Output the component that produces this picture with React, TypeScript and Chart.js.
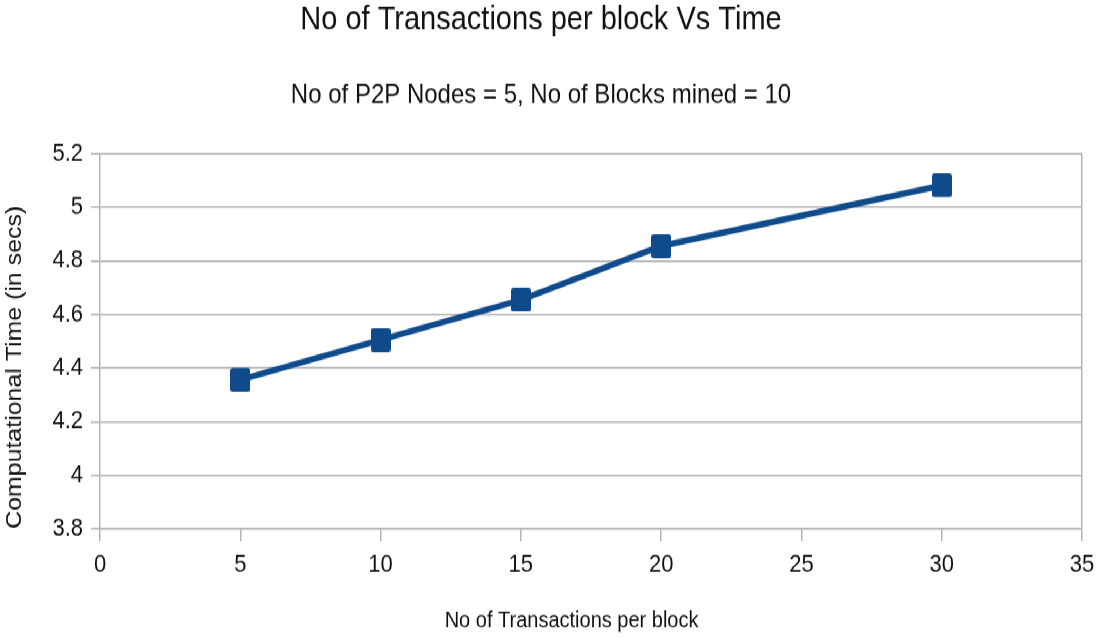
import React, { useEffect, useRef } from "react";
import { Chart, registerables } from "chart.js";

Chart.register(...registerables);

const titleText = "No of Transactions per block Vs Time";
const subtitleText = "No of P2P Nodes = 5, No of Blocks mined = 10";
const xAxisTitle = "No of Transactions per block";
const yAxisTitle = "Computational Time (in secs)";

const txPerBlock = [5, 10, 15, 20, 30];
const compTime = [4.356, 4.505, 4.654, 4.855, 5.081];

const xTickValues = [0, 5, 10, 15, 20, 25, 30, 35];
const yTickValues = [3.8, 4.0, 4.2, 4.4, 4.6, 4.8, 5.0, 5.2];

const SERIES_COLOR = "#0f4a8b";
const GRID_COLOR = "#b3b3b3";
const TEXT_COLOR = "#111111";
const FONT = "'Liberation Sans', Arial, sans-serif";

// The reference picture is vertically stretched; the canvas is drawn at this
// height and stretched to the full 641px page height.
const PAGE_W = 1100;
const PAGE_H = 641;
const CANVAS_H = 566;
const STRETCH = PAGE_H / CANVAS_H;

// trailing spaces shift the centred x-axis title slightly left, as in the reference
const X_TITLE_PAD = "       ";

function makeMarker(): HTMLCanvasElement {
  const w = 20;
  const h = 21;
  const c = document.createElement("canvas");
  c.width = w;
  c.height = h;
  const g = c.getContext("2d")!;
  g.fillStyle = SERIES_COLOR;
  const r = 2.5;
  g.beginPath();
  g.moveTo(r, 0);
  g.lineTo(w - r, 0);
  g.quadraticCurveTo(w, 0, w, r);
  g.lineTo(w, h - r);
  g.quadraticCurveTo(w, h, w - r, h);
  g.lineTo(r, h);
  g.quadraticCurveTo(0, h, 0, h - r);
  g.lineTo(0, r);
  g.quadraticCurveTo(0, 0, r, 0);
  g.closePath();
  g.fill();
  return c;
}

export default function App() {
  const canvasRef = useRef<HTMLCanvasElement | null>(null);

  useEffect(() => {
    const canvas = canvasRef.current;
    if (!canvas) return;
    const marker = makeMarker();
    const chart = new Chart(canvas, {
      type: "line",
      data: {
        datasets: [
          {
            label: "Computational Time",
            data: txPerBlock.map((x, i) => ({ x, y: compTime[i] })),
            borderColor: SERIES_COLOR,
            backgroundColor: SERIES_COLOR,
            borderWidth: 5.5,
            pointStyle: marker as any,
            pointRadius: 11,
            tension: 0,
          },
        ],
      },
      options: {
        responsive: false,
        animation: false,
        devicePixelRatio: 1,
        layout: { padding: { left: 0, right: 18, top: 0, bottom: 0 } },
        plugins: {
          legend: { display: false },
          tooltip: { enabled: false },
          title: {
            display: true,
            text: titleText,
            color: TEXT_COLOR,
            font: { family: FONT, size: 29, weight: "normal" },
            padding: { top: 1, bottom: 34 },
          },
          subtitle: {
            display: true,
            text: subtitleText,
            color: TEXT_COLOR,
            font: { family: FONT, size: 24, weight: "normal" },
            padding: { top: 0, bottom: 37 },
          },
        },
        scales: {
          x: {
            type: "linear",
            min: 0,
            max: 35,
            afterBuildTicks: (scale: any) => {
              scale.ticks = xTickValues.map((v) => ({ value: v }));
            },
            afterFit: (scale: any) => {
              scale.height = 99;
              scale.paddingLeft = 0;
              scale.paddingRight = 0;
            },
            ticks: {
              color: TEXT_COLOR,
              font: { family: FONT, size: 22 },
              padding: 8,
              maxRotation: 0,
              autoSkip: false,
              callback: (v: any) => String(v),
            },
            grid: {
              color: (ctx: any) =>
                ctx.tick && ctx.tick.value === 35 ? GRID_COLOR : "rgba(0,0,0,0)",
              tickColor: GRID_COLOR,
              tickLength: 11,
              lineWidth: 1.5,
            },
            border: { display: true, color: GRID_COLOR, width: 1.5 },
            title: {
              display: true,
              text: xAxisTitle + X_TITLE_PAD,
              color: TEXT_COLOR,
              font: { family: FONT, size: 20 },
              padding: { top: 0, bottom: 6 },
            },
          },
          y: {
            type: "linear",
            min: 3.8,
            max: 5.2,
            afterBuildTicks: (scale: any) => {
              scale.ticks = yTickValues.map((v) => ({ value: v }));
            },
            afterFit: (scale: any) => {
              scale.width = 100;
            },
            ticks: {
              color: TEXT_COLOR,
              font: { family: FONT, size: 22 },
              padding: 8,
              autoSkip: false,
              callback: (v: any) => String(Number(Number(v).toFixed(1))),
            },
            grid: {
              color: GRID_COLOR,
              tickColor: GRID_COLOR,
              tickLength: 9,
              lineWidth: 1.5,
            },
            border: { display: true, color: GRID_COLOR, width: 1.5 },
            title: {
              display: true,
              text: yAxisTitle,
              align: "start",
              color: TEXT_COLOR,
              font: { family: FONT, size: 22 },
              padding: { top: 2, bottom: 0 },
            },
          },
        },
      },
    });
    return () => chart.destroy();
  }, []);

  return (
    <div
      style={{
        position: "absolute",
        left: 0,
        top: 0,
        width: PAGE_W,
        height: CANVAS_H,
        background: "#fff",
        transform: `scaleY(${STRETCH})`,
        transformOrigin: "0 0",
      }}
    >
      <canvas
        ref={canvasRef}
        width={PAGE_W}
        height={CANVAS_H}
        style={{ display: "block", width: PAGE_W, height: CANVAS_H }}
      />
    </div>
  );
}
